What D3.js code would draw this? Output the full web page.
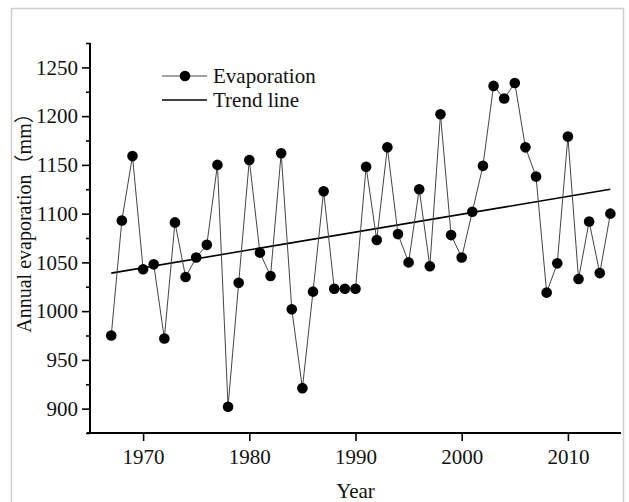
<!DOCTYPE html>
<html>
<head>
<meta charset="utf-8">
<script src="https://cdn.jsdelivr.net/npm/d3@7"></script>
<style>
  body { margin: 0; background: #fff; }
  text { font-family: "Liberation Serif", "Times New Roman", "Noto Sans CJK SC", serif; }
</style>
</head>
<body>
<div id="mainContainer"></div>
<script>
// annual evaporation values
var years = [1967, 1968, 1969, 1970, 1971, 1972, 1973, 1974, 1975, 1976,
             1977, 1978, 1979, 1980, 1981, 1982, 1983, 1984, 1985, 1986,
             1987, 1988, 1989, 1990, 1991, 1992, 1993, 1994, 1995, 1996,
             1997, 1998, 1999, 2000, 2001, 2002, 2003, 2004, 2005, 2006,
             2007, 2008, 2009, 2010, 2011, 2012, 2013, 2014];
var evaporation = [975, 1093, 1159, 1043, 1048, 972, 1091, 1035, 1055, 1068,
                   1150, 902, 1029, 1155, 1060, 1036, 1162, 1002, 921, 1020,
                   1123, 1023, 1023, 1023, 1148, 1073, 1168, 1079, 1050, 1125,
                   1046, 1202, 1078, 1055, 1102, 1149, 1231, 1218, 1234, 1168,
                   1138, 1019, 1049, 1179, 1033, 1092, 1039, 1100];
var trendYears = [1967, 2014];
var trendValues = [1039, 1125];

var yMajor = [900, 950, 1000, 1050, 1100, 1150, 1200, 1250];
var yMinor = [875, 925, 975, 1025, 1075, 1125, 1175, 1225, 1275];
var xMajor = [1970, 1980, 1990, 2000, 2010];

var legendLabels = ["Evaporation", "Trend line"];
var xLabel = "Year";
var yLabel = "Annual evaporation（mm）";

var W = 629, H = 502;

var svg = d3.select('#mainContainer').append('svg')
    .attr('width', W)
    .attr('height', H);

// light frame around the figure
svg.append('rect')
    .attr('x', 11.5).attr('y', 8.5)
    .attr('width', 612).attr('height', 520)
    .attr('fill', 'none')
    .attr('stroke', '#cfcfcf')
    .attr('stroke-width', 1.5);

var xscale = d3.scaleLinear().domain([1965, 2015]).range([90, 621]);
var yscale = d3.scaleLinear().domain([875, 1275]).range([433, 43]);

// y axis
var yAxis = svg.append('g')
    .attr('transform', 'translate(' + xscale(1965) + ',0)')
    .call(d3.axisLeft(yscale).tickValues(yMajor).tickSize(8).tickSizeOuter(0)
        .tickPadding(4).tickFormat(d3.format('d')));
yAxis.select('.domain').remove();
yAxis.selectAll('line').attr('stroke-width', 1.6);
yAxis.selectAll('text').attr('font-size', '21px').attr('fill', '#111')
    .style('font-family', '"Liberation Serif", serif');

var yAxisMinor = svg.append('g')
    .attr('transform', 'translate(' + xscale(1965) + ',0)')
    .call(d3.axisLeft(yscale).tickValues(yMinor).tickSize(4).tickFormat(''));
yAxisMinor.select('.domain').remove();
yAxisMinor.selectAll('line').attr('stroke-width', 1.6);

// x axis
var xAxis = svg.append('g')
    .attr('transform', 'translate(0,' + yscale(875) + ')')
    .call(d3.axisBottom(xscale).tickValues(xMajor).tickSize(8).tickSizeOuter(0)
        .tickPadding(8).tickFormat(d3.format('d')));
xAxis.select('.domain').remove();
xAxis.selectAll('line').attr('stroke-width', 1.6);
xAxis.selectAll('text').attr('font-size', '21px').attr('fill', '#111')
    .style('font-family', '"Liberation Serif", serif');

// axis lines
svg.append('line')
    .attr('x1', xscale(1965)).attr('x2', xscale(1965))
    .attr('y1', yscale(1275)).attr('y2', yscale(875))
    .attr('stroke', '#000').attr('stroke-width', 2);
svg.append('line')
    .attr('x1', xscale(1965) - 3).attr('x2', xscale(2015))
    .attr('y1', yscale(875)).attr('y2', yscale(875))
    .attr('stroke', '#000').attr('stroke-width', 2);

// axis titles
svg.append('text')
    .attr('x', (xscale(1965) + xscale(2015)) / 2)
    .attr('y', 498)
    .attr('text-anchor', 'middle')
    .attr('font-size', '21px')
    .attr('fill', '#111')
    .text(xLabel);

svg.append('text')
    .attr('transform', 'translate(31,' + 218 + ') rotate(-90)')
    .attr('text-anchor', 'middle')
    .attr('font-size', '20px')
    .attr('fill', '#111')
    .text(yLabel);

// trend line
svg.append('line')
    .attr('x1', xscale(trendYears[0])).attr('y1', yscale(trendValues[0]))
    .attr('x2', xscale(trendYears[1])).attr('y2', yscale(trendValues[1]))
    .attr('stroke', '#000')
    .attr('stroke-width', 1.6);

// evaporation series
var pts = years.map(function(d, i) { return [d, evaporation[i]]; });
var line = d3.line()
    .x(function(d) { return xscale(d[0]); })
    .y(function(d) { return yscale(d[1]); });

svg.append('path')
    .datum(pts)
    .attr('d', line)
    .attr('fill', 'none')
    .attr('stroke', '#444')
    .attr('stroke-width', 1);

svg.selectAll('circle.pt')
    .data(pts)
    .enter().append('circle')
    .attr('class', 'pt')
    .attr('cx', function(d) { return xscale(d[0]); })
    .attr('cy', function(d) { return yscale(d[1]); })
    .attr('r', 5.3)
    .attr('fill', '#000');

// legend
var lg = svg.append('g');
lg.append('line')
    .attr('x1', 162).attr('x2', 207).attr('y1', 76).attr('y2', 76)
    .attr('stroke', '#444').attr('stroke-width', 1);
lg.append('circle')
    .attr('cx', 185).attr('cy', 76).attr('r', 5.3).attr('fill', '#000');
lg.append('line')
    .attr('x1', 162).attr('x2', 207).attr('y1', 100).attr('y2', 100)
    .attr('stroke', '#000').attr('stroke-width', 1.6);
lg.selectAll('text')
    .data(legendLabels)
    .enter().append('text')
    .attr('x', 213)
    .attr('y', function(d, i) { return 76 + i * 24; })
    .attr('dy', '0.35em')
    .attr('font-size', '21px')
    .attr('fill', '#111')
    .text(function(d) { return d; });
</script>
</body>
</html>
